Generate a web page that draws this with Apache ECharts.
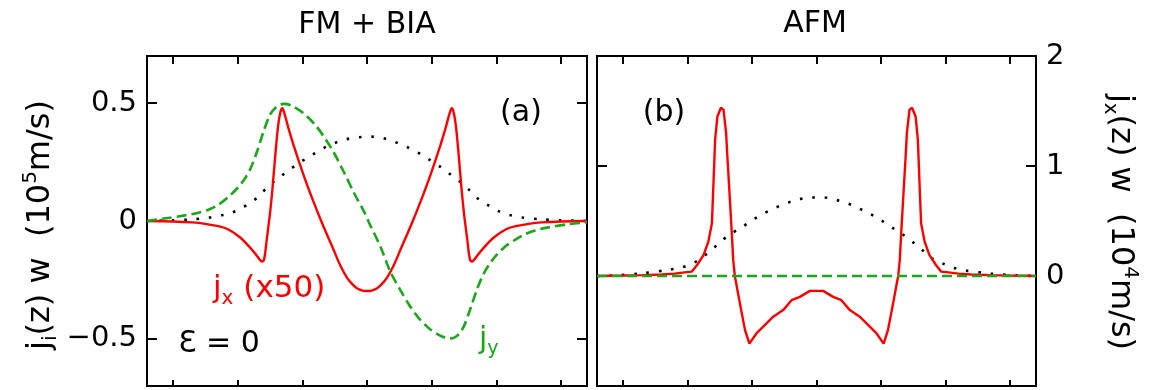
<!DOCTYPE html>
<html>
<head>
<meta charset="utf-8">
<title>FM + BIA / AFM</title>
<script src="https://cdn.jsdelivr.net/npm/echarts@6/dist/echarts.min.js"></script>
<style>
html, body { margin: 0; padding: 0; background: #fff; }
#chart { width: 1160px; height: 390px; }
</style>
</head>
<body>
<div id="chart"></div>
<script>
// panel (a) FM + BIA, left axis units 10^5 m/s
var zMagA = [-34, -30, -27, -24.5, -22.5, -21, -19.3, -17.6, -16.25, -14.85, -13.3, -11.76, -10.17, -8.5, -6.8, -5.06, -3.2, -1.3, 0.6, 2.56, 4.37, 6.18, 7.87, 9.52, 11.17, 12.77, 14.3, 15.7, 17.1, 18.7, 20.3, 22, 24, 27, 30, 34];
var magA = [0, 0.003, 0.007, 0.014, 0.024, 0.034, 0.056, 0.084, 0.12, 0.157, 0.19, 0.222, 0.252, 0.28, 0.308, 0.33, 0.347, 0.355, 0.358, 0.351, 0.335, 0.314, 0.29, 0.262, 0.233, 0.2, 0.169, 0.134, 0.096, 0.067, 0.042, 0.026, 0.015, 0.007, 0.003, 0];

var zJyA = [-34, -31, -28, -26, -24.5, -23, -21.5, -20, -19, -18, -17, -16, -15, -14.2, -13.4, -12.8, -11.6, -9.8, -8, -6.5, -5.2, -3.6, -2.1, -0.5, 0.5, 2.1, 3.6, 5.2, 6.5, 8, 9.8, 11.6, 12.8, 13.4, 14.2, 15, 16, 17, 18, 19, 20, 21.5, 23, 24.5, 26, 28, 31, 34];
var jyA = [0, 0.012, 0.024, 0.035, 0.048, 0.068, 0.1, 0.14, 0.175, 0.223, 0.294, 0.379, 0.45, 0.479, 0.494, 0.497, 0.489, 0.457, 0.408, 0.351, 0.294, 0.209, 0.124, 0.042, -0.018, -0.11, -0.215, -0.295, -0.355, -0.412, -0.46, -0.49, -0.498, -0.496, -0.48, -0.445, -0.37, -0.29, -0.225, -0.18, -0.145, -0.105, -0.078, -0.055, -0.04, -0.027, -0.014, -0.006];

var zJxA = [-34, -30, -27, -25, -23, -21.5, -19.6, -18, -17, -16.6, -16.25, -15.9, -15.5, -15, -14.6, -14.2, -13.75, -13.4, -13.1, -12.8, -12.2, -11.35, -9.8, -8.26, -7, -5.2, -4.1, -3.1, -2.2, -1.5, -0.7, 0, 0.7, 1.5, 2.2, 3.1, 4.1, 5.2, 7, 8.26, 9.8, 11.35, 12.2, 12.8, 13.1, 13.4, 13.75, 14.2, 14.6, 15, 15.5, 15.9, 16.25, 16.6, 17, 18, 19.6, 21.5, 23, 25, 27, 30, 34];
var jxA = [0, -0.002, -0.006, -0.012, -0.022, -0.035, -0.07, -0.115, -0.148, -0.163, -0.172, -0.162, -0.08, 0.03, 0.14, 0.27, 0.4, 0.46, 0.479, 0.46, 0.4, 0.322, 0.195, 0.081, -0.005, -0.12, -0.19, -0.24, -0.27, -0.286, -0.295, -0.297, -0.295, -0.286, -0.27, -0.24, -0.19, -0.12, -0.005, 0.081, 0.195, 0.322, 0.4, 0.46, 0.479, 0.46, 0.4, 0.27, 0.14, 0.03, -0.08, -0.162, -0.172, -0.163, -0.148, -0.115, -0.07, -0.035, -0.022, -0.012, -0.006, -0.002, 0];

// panel (b) AFM, right axis units 10^4 m/s
var zMagB = [-34, -31, -27, -23, -21, -19.2, -17.6, -16.1, -14.7, -13.15, -11.44, -9.8, -8.14, -6.39, -4.64, -2.78, -0.87, 1.09, 2.99, 4.85, 6.6, 8.36, 10.06, 11.7, 13.3, 14.9, 16.3, 17.8, 19.5, 21.2, 23, 27, 31, 34];
var magB = [0, 0.005, 0.025, 0.055, 0.077, 0.114, 0.174, 0.244, 0.32, 0.387, 0.447, 0.514, 0.569, 0.62, 0.662, 0.696, 0.714, 0.714, 0.692, 0.66, 0.614, 0.562, 0.505, 0.441, 0.38, 0.31, 0.24, 0.164, 0.115, 0.075, 0.05, 0.022, 0.006, 0];

var zJxB = [-34, -30, -27, -24, -22, -20.1, -19.3, -18.5, -17.5, -16.76, -16.2, -16, -15.7, -15.35, -14.8, -14.4, -14, -13.8, -13.5, -13.15, -12.9, -12.65, -11.86, -11.08, -10.4, -9.28, -8.25, -6.7, -5.16, -3.86, -2.58, -1.03, 1.03, 2.58, 3.86, 5.16, 6.7, 8.25, 9.28, 10.4, 11.08, 11.86, 12.65, 12.9, 13.15, 13.5, 13.8, 14, 14.4, 14.8, 15.35, 15.7, 16, 16.2, 16.76, 17.5, 18.5, 19.3, 20.1, 22, 24, 27, 30, 34];
var jxB = [0, 0.004, 0.008, 0.014, 0.022, 0.035, 0.04, 0.1, 0.19, 0.31, 0.48, 0.78, 1.24, 1.45, 1.53, 1.51, 1.3, 1.08, 0.78, 0.42, 0.144, 0, -0.25, -0.49, -0.615, -0.52, -0.46, -0.37, -0.31, -0.22, -0.19, -0.135, -0.135, -0.19, -0.22, -0.31, -0.37, -0.46, -0.52, -0.615, -0.49, -0.25, 0, 0.144, 0.42, 0.78, 1.08, 1.3, 1.51, 1.53, 1.45, 1.24, 0.78, 0.48, 0.31, 0.19, 0.1, 0.04, 0.035, 0.022, 0.014, 0.008, 0.004, 0];

var zJyB = [-34, 34];
var jyB = [0, 0];

// ticks and labels
var zTicks = [-30, -20, -10, 0, 10, 20, 30];
var yTicksA = [-0.5, 0, 0.5];
var yTicksB = [-1, 0, 1, 2];
var yLabelsB = [0, 1, 2];

var FONT = 'DejaVu Sans';
var RED = '#ff0000';
var GREEN = '#18a818';

function pairs(xs, ys) {
    var out = [];
    for (var i = 0; i < xs.length; i++) {
        out.push([xs[i], ys[i]]);
    }
    return out;
}

function fmt(v) {
    if (v === 0) return '0';
    return v < 0 ? '\u2212' + Math.abs(v) : String(v);
}

function xAx(grid, pos, len) {
    return {
        type: 'value', gridIndex: grid, position: pos, min: -34, max: 34,
        axisLine: {show: true, onZero: false, lineStyle: {color: '#000', width: 2}},
        axisTick: {show: true, inside: true, length: len, customValues: zTicks, lineStyle: {color: '#000', width: 2}},
        axisLabel: {show: false},
        splitLine: {show: false}
    };
}

function yAx(grid, pos, min, max, ticks, labels) {
    return {
        type: 'value', gridIndex: grid, position: pos, min: min, max: max,
        axisLine: {show: true, onZero: false, lineStyle: {color: '#000', width: 2}},
        axisTick: {show: true, inside: true, length: 10, customValues: ticks, lineStyle: {color: '#000', width: 2}},
        axisLabel: labels ? {
            show: true, customValues: labels, margin: 10, formatter: fmt,
            color: '#000', fontFamily: FONT, fontSize: 29
        } : {show: false},
        splitLine: {show: false}
    };
}

function richSet(color, size) {
    var small = Math.round(size * 0.63);
    return {
        n: {fontSize: size, fontFamily: FONT, lineHeight: size + 8, fill: color},
        sub: {fontSize: small, fontFamily: FONT, lineHeight: small + 2, verticalAlign: 'bottom', fill: color},
        sup: {fontSize: small, fontFamily: FONT, lineHeight: small + 2, verticalAlign: 'top', fill: color}
    };
}

function label(x, y, text, color, align, rotation, size) {
    size = size || 30;
    return {
        type: 'text', x: x, y: y, rotation: rotation || 0, silent: true,
        style: {
            text: text, rich: richSet(color, size), fill: color,
            fontFamily: FONT, fontSize: size,
            align: align || 'center', verticalAlign: 'middle'
        }
    };
}

var chart = echarts.init(document.getElementById('chart'));
var option = {
    animation: false,
    backgroundColor: '#fff',
    grid: [
        {left: 147, top: 56, width: 440, height: 330, outerBoundsMode: 'none'},
        {left: 597, top: 56, width: 439, height: 330, outerBoundsMode: 'none'}
    ],
    xAxis: [
        xAx(0, 'bottom', 6), xAx(0, 'top', 8),
        xAx(1, 'bottom', 6), xAx(1, 'top', 8)
    ],
    yAxis: [
        yAx(0, 'left', -0.7, 0.7, yTicksA, yTicksA),
        yAx(0, 'right', -0.7, 0.7, yTicksA, null),
        yAx(1, 'left', -1, 2, yTicksB, null),
        yAx(1, 'right', -1, 2, yTicksB, yLabelsB)
    ],
    series: [
        {type: 'line', xAxisIndex: 0, yAxisIndex: 0, data: pairs(zMagA, magA), symbol: 'none', smooth: 0.3,
            lineStyle: {color: '#000', width: 2.6, type: [2.6, 9.8]}},
        {type: 'line', xAxisIndex: 0, yAxisIndex: 0, data: pairs(zJxA, jxA), symbol: 'none', smooth: 0.35,
            lineStyle: {color: RED, width: 2.4}},
        {type: 'line', xAxisIndex: 0, yAxisIndex: 0, data: pairs(zJyA, jyA), symbol: 'none', smooth: 0.3,
            lineStyle: {color: GREEN, width: 2.6, type: [10, 5]}},
        {type: 'line', xAxisIndex: 2, yAxisIndex: 3, data: pairs(zMagB, magB), symbol: 'none', smooth: 0.3,
            lineStyle: {color: '#000', width: 2.6, type: [2.6, 9.8]}},
        {type: 'line', xAxisIndex: 2, yAxisIndex: 3, data: pairs(zJxB, jxB), symbol: 'none', smooth: false,
            lineStyle: {color: RED, width: 2.4}},
        {type: 'line', xAxisIndex: 2, yAxisIndex: 3, data: pairs(zJyB, jyB), symbol: 'none',
            lineStyle: {color: GREEN, width: 2.6, type: [10, 5]}}
    ],
    graphic: [
        label(367, 25, '{n|FM + BIA}', '#000'),
        label(815, 24, '{n|AFM}', '#000'),
        label(521, 113, '{n|(a)}', '#000'),
        label(664, 113, '{n|(b)}', '#000'),
        label(213, 289, '{n|j}{sub|x}{n| (x50)}', RED, 'left', 0, 31),
        label(219, 344, '{n|\u0190 = 0}', '#000'),
        label(479, 340, '{n|j}{sub|y}', GREEN, 'left'),
        label(41, 225, '{n|j}{sub|i}{n|(z) w  (10}{sup|5}{n|m/s)}', '#000', 'center', Math.PI / 2, 32),
        label(1120, 222, '{n|j}{sub|x}{n|(z) w  (10}{sup|4}{n|m/s)}', '#000', 'center', -Math.PI / 2, 32)
    ]
};
chart.setOption(option);
</script>
</body>
</html>
